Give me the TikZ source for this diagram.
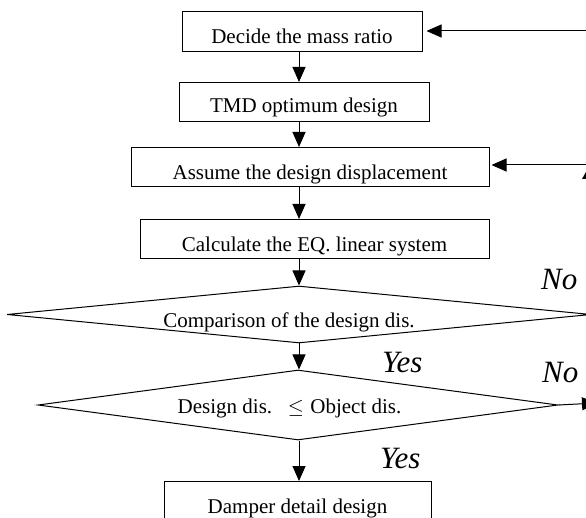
\documentclass[tikz,border=0pt]{standalone}
\usepackage{fontspec}
\setmainfont{Liberation Serif}
\usetikzlibrary{arrows.meta,shapes.geometric}

\tikzset{
  flow/.style={line width=1pt, draw=black},
  arr/.style={flow, -{Triangle[length=15pt,width=13pt]}},
  stepbox/.style={flow, rectangle, inner xsep=0pt, inner ysep=0pt,
    font=\fontsize{21}{25}\selectfont},
  decision/.style={flow, diamond, inner sep=0pt},
  caption/.style={inner sep=0pt, font=\fontsize{21}{25}\selectfont},
  answer/.style={inner sep=0pt, font=\fontsize{31}{36}\selectfont\itshape},
}

\begin{document}
\begin{tikzpicture}[x=1pt, y=-1pt]
\clip (0,0) rectangle (586,518);

% process boxes
\node[stepbox, anchor=south, minimum width=240pt, text height=32pt, text depth=8pt]
  (b1) at (302,52) {Decide the mass ratio};
\node[stepbox, anchor=south, minimum width=250pt, text height=30pt, text depth=9pt]
  (b2) at (304,122) {TMD optimum design};
\node[stepbox, anchor=south, minimum width=358pt, text height=32pt, text depth=7pt]
  (b3) at (310,187) {Assume the design displacement};
\node[stepbox, anchor=south, minimum width=349pt, text height=32pt, text depth=7pt]
  (b4) at (314.5,259) {Calculate the EQ. linear system};
\node[stepbox, anchor=north, minimum width=267pt, text height=32pt, text depth=8pt]
  (b5) at (297.5,481) {Damper detail design};

% decisions
\node[decision, minimum width=584pt, minimum height=57pt] (d1) at (299,314.5) {};
\node[caption, anchor=base] (t1) at (289,327) {Comparison of the design dis.};
\node[decision, minimum width=520pt, minimum height=70pt] (d2) at (298,405) {};
\node[caption, anchor=base] (t2) at (289.5,413)
  {Design dis.\hspace{0.75em}$\leq$\hspace{0.3em}Object dis.};

% branch labels
\node[answer, anchor=base west] (no1) at (541,290) {No};
\node[answer, anchor=base west] (yes1) at (382,373) {Yes};
\node[answer, anchor=base west] (no2) at (542,382) {No};
\node[answer, anchor=base west] (yes2) at (380,468) {Yes};

% main column
\coordinate (col) at (299,0);
\draw[arr] (b1.south -| col) -- (b2.north -| col);
\draw[arr] (b2.south -| col) -- (b3.north -| col);
\draw[arr] (b3.south -| col) -- (b4.north -| col);
\draw[arr] (b4.south -| col) -- (d1.north -| col);
\draw[arr] (d1.south -| col) -- (d2.north -| col);
\draw[arr] (d2.south -| col) -- (b5.north -| col);

% feedback lines entering from the right
\coordinate (r1) at (592,31);
\coordinate (r3) at (592,165);
\draw[arr, shorten >=4pt] (r1) -- (r1 -| b1.east);
\draw[arr, shorten >=2pt] (r3) -- (r3 -| b3.east);
\fill (582,179) -- (587,179) -- (587,170) -- cycle;

% exit to the right
\coordinate (out2) at (597,403);
\draw[arr] (d2.east) -- (out2);

\end{tikzpicture}
\end{document}
